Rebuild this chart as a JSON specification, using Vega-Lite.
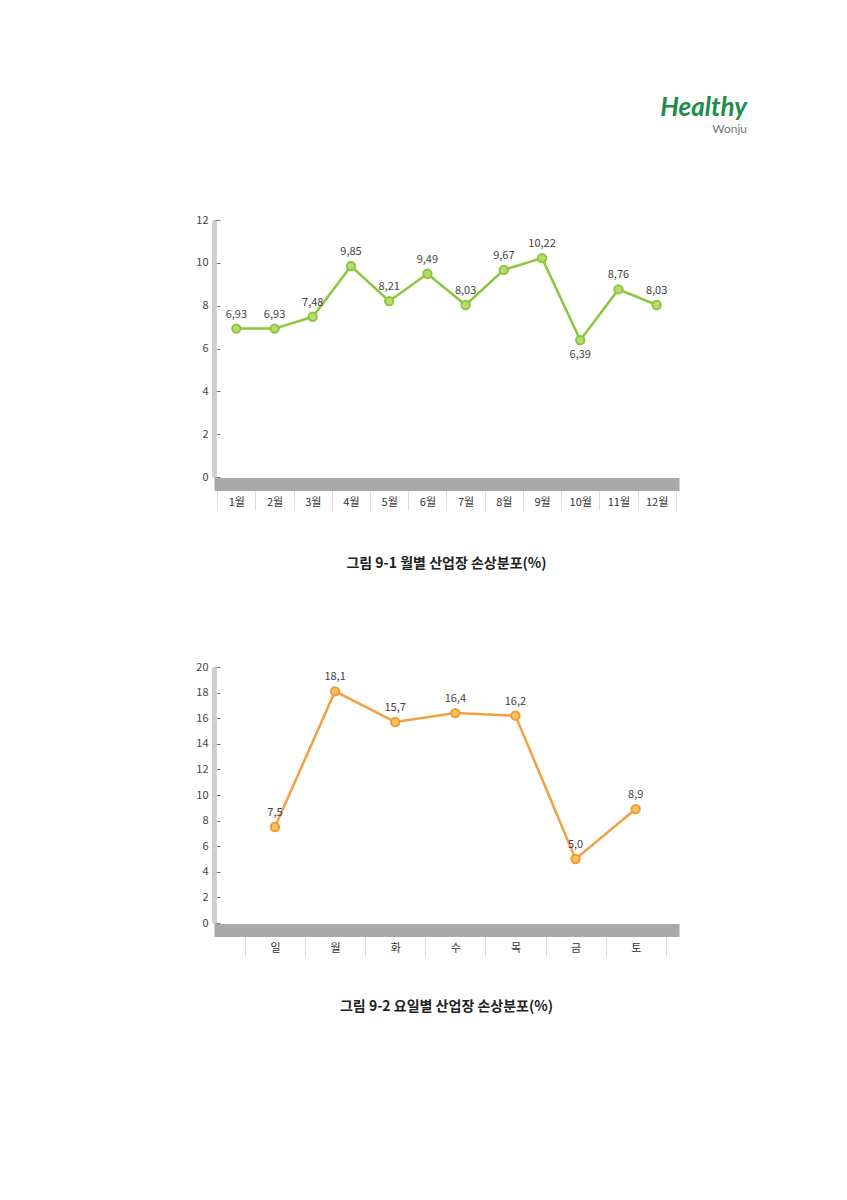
{
  "$schema": "https://vega.github.io/schema/vega-lite/v6.json",
  "background": "white",
  "padding": {"left": 195, "top": 95, "right": 10, "bottom": 10},
  "config": {
    "font": "Noto Sans CJK KR",
    "view": {"stroke": null},
    "concat": {"spacing": 90}
  },
  "title": {
    "text": "Healthy",
    "subtitle": "Wonju",
    "anchor": "end",
    "color": "#1e8c4a",
    "font": "Lato",
    "fontSize": 26,
    "fontStyle": "italic",
    "fontWeight": "bold",
    "subtitleColor": "#777777",
    "subtitleFont": "Lato",
    "subtitleFontSize": 12,
    "dx": 68,
    "offset": 79
  },
  "vconcat": [
    {
      "width": 465,
      "height": 257,
      "data": {
        "values": [
          {"m": "1월", "v": 6.93, "label": "6,93"},
          {"m": "2월", "v": 6.93, "label": "6,93"},
          {"m": "3월", "v": 7.48, "label": "7,48"},
          {"m": "4월", "v": 9.85, "label": "9,85"},
          {"m": "5월", "v": 8.21, "label": "8,21"},
          {"m": "6월", "v": 9.49, "label": "9,49"},
          {"m": "7월", "v": 8.03, "label": "8,03"},
          {"m": "8월", "v": 9.67, "label": "9,67"},
          {"m": "9월", "v": 10.22, "label": "10,22"},
          {"m": "10월", "v": 6.39, "label": "6,39"},
          {"m": "11월", "v": 8.76, "label": "8,76"},
          {"m": "12월", "v": 8.03, "label": "8,03"}
        ]
      },
      "title": {
        "text": "그림 9-1  월별 산업장 손상분포(%)",
        "orient": "bottom",
        "anchor": "middle",
        "fontSize": 14,
        "fontWeight": "bold",
        "color": "#222222",
        "offset": 46
      },
      "encoding": {
        "x": {
          "field": "m",
          "type": "ordinal",
          "sort": null,
          "scale": {"type": "band", "paddingInner": 0, "paddingOuter": 0.085},
          "axis": {
            "title": null,
            "offset": 7,
            "domainColor": "#a9a9a9",
            "domainWidth": 13,
            "domainCap": "butt",
            "tickBand": "extent",
            "tickColor": "#dddddd",
            "tickSize": 26,
            "tickWidth": 1,
            "labelPadding": -14,
            "labelFontSize": 11,
            "labelColor": "#333333",
            "labelAngle": 0
          }
        },
        "y": {
          "field": "v",
          "type": "quantitative",
          "scale": {"domain": [0, 12]},
          "axis": {
            "title": null,
            "values": [0, 2, 4, 6, 8, 10, 12],
            "grid": false,
            "domainColor": "#cfcfcf",
            "domainWidth": 5,
            "tickColor": "#777777",
            "tickSize": -6,
            "tickWidth": 1,
            "labelPadding": 12,
            "labelFontSize": 11,
            "labelColor": "#444444"
          }
        }
      },
      "layer": [
        {"mark": {"type": "line", "color": "#8cc63e", "strokeWidth": 2.5}},
        {"mark": {"type": "point", "filled": true, "fill": "#b8dc6e", "stroke": "#8cc63e", "strokeWidth": 2, "size": 70, "opacity": 1}},
        {
          "transform": [{"filter": "datum.m != '10월'"}],
          "mark": {"type": "text", "dy": -14, "fontSize": 11, "color": "#444444"},
          "encoding": {"text": {"field": "label"}}
        },
        {
          "transform": [{"filter": "datum.m == '10월'"}],
          "mark": {"type": "text", "dy": 15, "fontSize": 11, "color": "#444444"},
          "encoding": {"text": {"field": "label"}}
        }
      ]
    },
    {
      "width": 465,
      "height": 256,
      "data": {
        "values": [
          {"d": "일", "v": 7.5, "label": "7,5"},
          {"d": "월", "v": 18.1, "label": "18,1"},
          {"d": "화", "v": 15.7, "label": "15,7"},
          {"d": "수", "v": 16.4, "label": "16,4"},
          {"d": "목", "v": 16.2, "label": "16,2"},
          {"d": "금", "v": 5.0, "label": "5,0"},
          {"d": "토", "v": 8.9, "label": "8,9"}
        ]
      },
      "title": {
        "text": "그림 9-2  요일별 산업장 손상분포(%)",
        "orient": "bottom",
        "anchor": "middle",
        "fontSize": 14,
        "fontWeight": "bold",
        "color": "#222222",
        "offset": 43
      },
      "encoding": {
        "x": {
          "field": "d",
          "type": "ordinal",
          "sort": null,
          "scale": {"type": "band", "paddingInner": 0, "paddingOuter": 0.367, "align": 0.7},
          "axis": {
            "title": null,
            "offset": 7,
            "domainColor": "#a9a9a9",
            "domainWidth": 13,
            "domainCap": "butt",
            "tickBand": "extent",
            "tickColor": "#dddddd",
            "tickSize": 26,
            "tickWidth": 1,
            "labelPadding": -14,
            "labelFontSize": 11,
            "labelColor": "#333333",
            "labelAngle": 0
          }
        },
        "y": {
          "field": "v",
          "type": "quantitative",
          "scale": {"domain": [0, 20]},
          "axis": {
            "title": null,
            "values": [0, 2, 4, 6, 8, 10, 12, 14, 16, 18, 20],
            "grid": false,
            "domainColor": "#cfcfcf",
            "domainWidth": 5,
            "tickColor": "#777777",
            "tickSize": -6,
            "tickWidth": 1,
            "labelPadding": 12,
            "labelFontSize": 11,
            "labelColor": "#444444"
          }
        }
      },
      "layer": [
        {"mark": {"type": "line", "color": "#f2a043", "strokeWidth": 2.5}},
        {"mark": {"type": "point", "filled": true, "fill": "#f8c45a", "stroke": "#ef9a36", "strokeWidth": 2, "size": 70, "opacity": 1}},
        {
          "mark": {"type": "text", "dy": -14, "fontSize": 11, "color": "#444444"},
          "encoding": {"text": {"field": "label"}}
        }
      ]
    }
  ]
}
